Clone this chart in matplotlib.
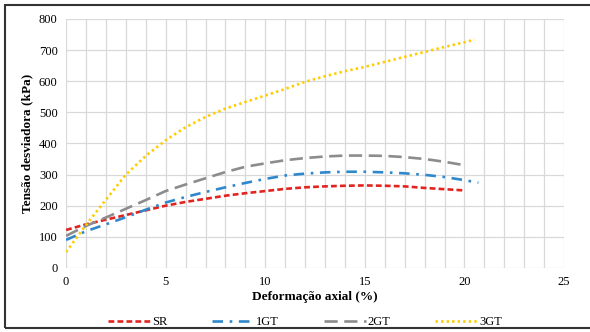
import matplotlib
matplotlib.use("Agg")
import matplotlib.pyplot as plt
from matplotlib.patches import Rectangle

# deformacao axial (%) e tensao desviadora (kPa)
x_sr = [0, 1, 2, 3, 4, 5, 6, 7, 8, 9, 10, 11, 12, 13, 14, 15, 16, 17, 18, 19, 20]
y_sr = [122, 140, 155, 170, 185, 200, 212, 222, 232, 240, 247, 254, 259, 262, 264, 265, 264, 262, 257, 253, 249]

x_1gt = [0, 1, 2, 3, 4, 5, 6, 7, 8, 9, 10, 11, 12, 13, 14, 15, 16, 17, 18, 19, 20, 20.7]
y_1gt = [90, 118, 140, 163, 187, 210, 228, 244, 259, 273, 286, 297, 303, 307, 309, 309, 307, 304, 299, 292, 282, 274]

x_2gt = [0, 1, 2, 3, 4, 5, 6, 7, 8, 9, 10, 11, 12, 13, 14, 15, 16, 17, 18, 19, 20]
y_2gt = [103, 135, 162, 190, 218, 247, 268, 288, 308, 325, 336, 346, 353, 358, 361, 361, 360, 356, 350, 341, 330]

x_3gt = [0, 1, 2, 3, 4, 5, 6, 7, 8, 9, 10, 11, 12, 13, 14, 15, 16, 17, 18, 19, 20, 20.5]
y_3gt = [51, 138, 219, 300, 360, 410, 452, 485, 512, 533, 554, 575, 598, 616, 632, 646, 662, 678, 694, 710, 725, 733]

plt.rcParams['font.family'] = ['Liberation Serif', 'DejaVu Serif']

fig = plt.figure(figsize=(5.9, 3.32), dpi=100)
ax = fig.add_axes([0.112, 0.193, 0.844, 0.75])

lw = 1.9
ax.plot(x_sr, y_sr, color="#e3231f", lw=lw, dashes=(2.2, 1.2), label="SR")
ax.plot(x_1gt, y_1gt, color="#2f88cc", lw=lw, dashes=(4, 2.5, 1, 2.5), label="1GT")
ax.plot(x_2gt, y_2gt, color="#8c8c8c", lw=lw, dashes=(5, 2.5), label="2GT")
ax.plot(x_3gt, y_3gt, color="#ffcc00", lw=lw, dashes=(0.9, 1.2), label="3GT")

ax.set_xlim(0, 25)
ax.set_ylim(0, 800)
ax.set_xticks(range(0, 26, 5))
ax.set_xticks(range(0, 26), minor=True)
ax.set_yticks(range(0, 801, 100))
ax.grid(True, which="both", color="#d9d9d9", lw=0.9)
ax.set_axisbelow(True)
ax.tick_params(which="both", length=0, labelsize=9, pad=6)
for s in ax.spines.values():
    s.set_visible(False)

ax.set_xlabel("Deformação axial (%)", fontsize=9.5, fontweight="bold", labelpad=2)
ax.set_ylabel("Tensão desviadora (kPa)", fontsize=9.5, fontweight="bold", labelpad=4)

fig.legend(loc="center", bbox_to_anchor=(0.517, 0.03), ncol=4, frameon=False,
           fontsize=9, handlelength=3.4, columnspacing=3.6, handletextpad=0.1)

fig.patches.append(Rectangle((0.008, 0.012), 1.2, 0.973, transform=fig.transFigure,
                             fill=False, edgecolor="#333333", lw=1.5))

fig.savefig("out.png", dpi=100)
